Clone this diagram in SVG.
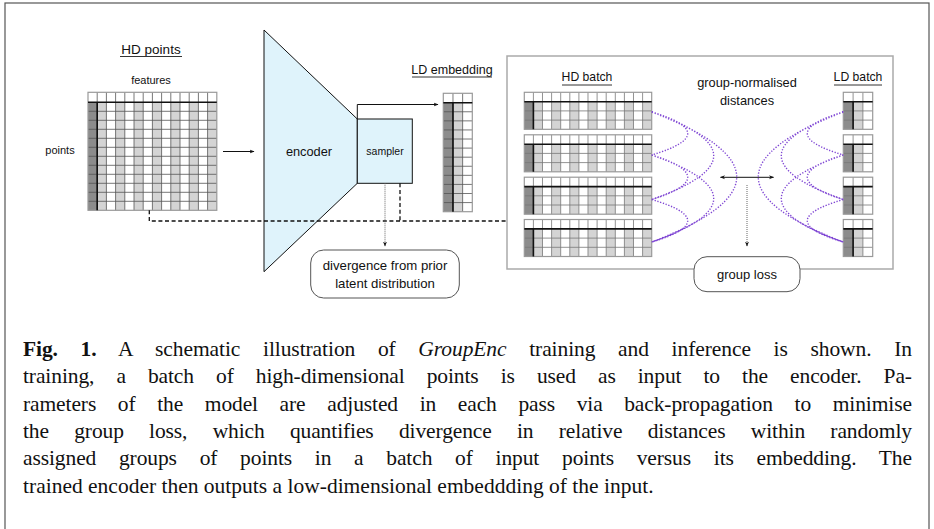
<svg xmlns="http://www.w3.org/2000/svg" width="934" height="529" viewBox="0 0 934 529">
<style>
.sans{font-family:"Liberation Sans","DejaVu Sans",sans-serif;fill:#111}
.cap{font-family:"Liberation Serif","DejaVu Serif",serif;fill:#111;font-size:21.5px}
.dk{fill:#8c8c8c}
.lg{fill:#d4d4d4}
.gl{fill:none;stroke:#555;stroke-width:0.8}
.gb{fill:none;stroke:#777;stroke-width:0.8}
.bd{fill:none;stroke:#999;stroke-width:1.2}
.thk{fill:none;stroke:#111;stroke-width:1.6}
.ul{stroke:#333;stroke-width:1}
.blue{fill:#dff3fb;stroke:#111;stroke-width:1}
.box{fill:#fff;stroke:#555;stroke-width:1}
.arr{fill:none;stroke:#111;stroke-width:1}
.dash{fill:none;stroke:#111;stroke-width:1.3;stroke-dasharray:4 2.6}
.dot{fill:none;stroke:#666;stroke-width:1;stroke-dasharray:1 1}
.pur{fill:none;stroke:#8048d4;stroke-width:1.4;stroke-dasharray:1.3 1.6}
</style>
<defs>
<marker id="ah" viewBox="0 0 10 10" refX="9" refY="5" markerWidth="5" markerHeight="5" orient="auto-start-reverse" markerUnits="userSpaceOnUse">
<path d="M0,1 L10,5 L0,9 L3,5 Z" fill="#111"/>
</marker>
<g id="hdgrid">
<rect x="0" y="0" width="128.8" height="118" fill="#fff"/>
<rect x="0" y="10" width="9.2" height="108" class="dk"/>
<rect x="9.2" y="10" width="9.2" height="108" class="lg"/>
<rect x="27.6" y="10" width="9.2" height="108" class="lg"/>
<rect x="46" y="10" width="9.2" height="108" class="lg"/>
<rect x="64.4" y="10" width="9.2" height="108" class="lg"/>
<rect x="82.8" y="10" width="9.2" height="108" class="lg"/>
<rect x="101.2" y="10" width="9.2" height="108" class="lg"/>
<rect x="119.6" y="10" width="9.2" height="108" class="lg"/>
<path class="gl" d="M9.2 0V118M18.4 0V118M27.6 0V118M36.8 0V118M46 0V118M55.2 0V118M64.4 0V118M73.6 0V118M82.8 0V118M92 0V118M101.2 0V118M110.4 0V118M119.6 0V118M0 19H128.8M0 28H128.8M0 37H128.8M0 46H128.8M0 55H128.8M0 64H128.8M0 73H128.8M0 82H128.8M0 91H128.8M0 100H128.8M0 109H128.8"/>
<rect x="0" y="0" width="128.8" height="118" class="bd"/>
<path class="thk" d="M0 10H128.8M9.2 10V118"/>
</g>
<g id="hdblock">
<rect x="0" y="0" width="127.4" height="37" fill="#fff"/>
<rect x="0" y="9.4" width="9.1" height="27.6" class="dk"/>
<rect x="9.1" y="9.4" width="9.1" height="27.6" class="lg"/>
<rect x="27.3" y="9.4" width="9.1" height="27.6" class="lg"/>
<rect x="45.5" y="9.4" width="9.1" height="27.6" class="lg"/>
<rect x="63.7" y="9.4" width="9.1" height="27.6" class="lg"/>
<rect x="81.9" y="9.4" width="9.1" height="27.6" class="lg"/>
<rect x="100.1" y="9.4" width="9.1" height="27.6" class="lg"/>
<rect x="118.3" y="9.4" width="9.1" height="27.6" class="lg"/>
<path class="gb" d="M9.1 0V37M18.2 0V37M27.3 0V37M36.4 0V37M45.5 0V37M54.6 0V37M63.7 0V37M72.8 0V37M81.9 0V37M91 0V37M100.1 0V37M109.2 0V37M118.3 0V37M0 18.6H127.4M0 27.8H127.4"/>
<rect x="0" y="0" width="127.4" height="37" class="bd"/>
<path class="thk" d="M0 9.4H127.4M9.1 9.4V37"/>
</g>
<g id="ldblock">
<rect x="0" y="0" width="29.4" height="37" fill="#fff"/>
<rect x="0" y="9.4" width="9.8" height="27.6" class="dk"/>
<rect x="9.8" y="9.4" width="9.8" height="27.6" class="lg"/>
<path class="gb" d="M9.8 0V37M19.6 0V37M0 18.6H29.4M0 27.8H29.4"/>
<rect x="0" y="0" width="29.4" height="37" class="bd"/>
<path class="thk" d="M0 9.4H29.4M9.8 9.4V37"/>
</g>
</defs>
<rect x="0" y="0" width="934" height="529" fill="#fff"/>
<rect x="5" y="3" width="924" height="540" fill="none" stroke="#555" stroke-width="1.2"/>

<g id="panel">
<rect x="507" y="56" width="386" height="213" fill="none" stroke="#aaa" stroke-width="1.5"/>
</g>

<g id="hd-points">
<text class="sans" x="151" y="53.5" font-size="13.5" text-anchor="middle">HD points</text>
<line class="ul" x1="120" y1="56.5" x2="182" y2="56.5"/>
<text class="sans" x="151" y="84.3" font-size="11" text-anchor="middle">features</text>
<text class="sans" x="60" y="154.3" font-size="11" text-anchor="middle">points</text>
<use href="#hdgrid" x="88" y="92.3"/>
</g>

<g id="encoder">
<path class="blue" d="M264 30 L357.3 119 L357.3 183.3 L264 271.7 Z"/>
<text class="sans" x="309" y="155.7" font-size="12.8" text-anchor="middle">encoder</text>
</g>

<g id="sampler">
<rect class="blue" x="357.3" y="119" width="55" height="64.3"/>
<text class="sans" x="385" y="155" font-size="10.5" text-anchor="middle">sampler</text>
</g>

<g id="ld-embedding">
<text class="sans" x="452" y="73.5" font-size="12.5" text-anchor="middle">LD embedding</text>
<line class="ul" x1="412" y1="77" x2="492" y2="77"/>
<g transform="translate(443.3,93.3)">
<rect x="0" y="0" width="29" height="118.4" fill="#fff"/>
<rect x="0" y="9.4" width="9.67" height="109" class="dk"/>
<rect x="9.67" y="9.4" width="9.67" height="109" class="lg"/>
<path class="gl" d="M9.67 0V118.4M19.33 0V118.4M0 18.48H29M0 27.56H29M0 36.64H29M0 45.72H29M0 54.8H29M0 63.88H29M0 72.96H29M0 82.04H29M0 91.12H29M0 100.2H29M0 109.28H29"/>
<rect x="0" y="0" width="29" height="118.4" class="bd"/>
<path class="thk" d="M0 9.4H29M9.67 9.4V118.4"/>
</g>
</g>

<g id="divergence">
<rect class="box" x="310.7" y="250" width="148.6" height="48" rx="13" ry="13"/>
<text class="sans" x="385" y="269.5" font-size="13.2" text-anchor="middle">divergence from prior</text>
<text class="sans" x="385" y="287.5" font-size="13.2" text-anchor="middle">latent distribution</text>
</g>

<g id="hd-batch">
<text class="sans" x="587" y="81.3" font-size="12.2" text-anchor="middle">HD batch</text>
<line class="ul" x1="562" y1="85" x2="612" y2="85"/>
<use href="#hdblock" x="524.3" y="92.3"/>
<use href="#hdblock" x="524.3" y="134.8"/>
<use href="#hdblock" x="524.3" y="177.2"/>
<use href="#hdblock" x="524.3" y="219.5"/>
</g>

<g id="ld-batch">
<text class="sans" x="858" y="81.3" font-size="12.2" text-anchor="middle">LD batch</text>
<line class="ul" x1="834" y1="85" x2="882" y2="85"/>
<use href="#ldblock" x="843.3" y="92.3"/>
<use href="#ldblock" x="843.3" y="134.8"/>
<use href="#ldblock" x="843.3" y="177.2"/>
<use href="#ldblock" x="843.3" y="219.5"/>
</g>

<g id="distances-label">
<text class="sans" x="747" y="86.7" font-size="12.8" text-anchor="middle">group-normalised</text>
<text class="sans" x="747" y="105" font-size="12.8" text-anchor="middle">distances</text>
</g>

<g id="group-loss">
<rect class="box" x="694" y="256.7" width="106" height="35" rx="13" ry="13"/>
<text class="sans" x="747" y="279" font-size="13" text-anchor="middle">group loss</text>
</g>

<g id="connectors">
<line class="arr" x1="223" y1="151.5" x2="254" y2="151.5" marker-end="url(#ah)"/>
<path class="arr" d="M357.3 119 V104.5 H438" marker-end="url(#ah)"/>
<path class="dash" d="M149.3 210.3 V221 H507 M400 183.3 V221"/>
<line class="dot" x1="385" y1="183.3" x2="385" y2="246" marker-end="url(#ah)"/>
<line class="arr" x1="720.5" y1="177.3" x2="773.5" y2="177.3" marker-start="url(#ah)" marker-end="url(#ah)"/>
<line class="dot" x1="747" y1="185" x2="747" y2="246" marker-end="url(#ah)"/>
<path class="pur" d="M651.7 112 Q723.7 133.5 651.7 155 M651.7 155 Q723.7 177.2 651.7 199.5 M651.7 199.5 Q723.7 220.7 651.7 242 M651.7 112 Q775.7 155.7 651.7 199.5 M651.7 155 Q775.7 198.5 651.7 242 M651.7 112 Q821.7 177 651.7 242"/>
<path class="pur" d="M843.3 112 Q771.3 133.5 843.3 155 M843.3 155 Q771.3 177.2 843.3 199.5 M843.3 199.5 Q771.3 220.7 843.3 242 M843.3 112 Q719.3 155.7 843.3 199.5 M843.3 155 Q719.3 198.5 843.3 242 M843.3 112 Q673.3 177 843.3 242"/>
</g>

<g id="caption">
<text class="cap" x="23" y="356" word-spacing="17.4" textLength="889" lengthAdjust="spacing"><tspan font-weight="bold">Fig. 1.</tspan> A schematic illustration of <tspan font-style="italic">GroupEnc</tspan> training and inference is shown. In</text>
<text class="cap" x="23" y="383.3" word-spacing="16.8" textLength="889" lengthAdjust="spacing">training, a batch of high-dimensional points is used as input to the encoder. Pa-</text>
<text class="cap" x="23" y="410.6" word-spacing="16.4" textLength="889" lengthAdjust="spacing">rameters of the model are adjusted in each pass via back-propagation to minimise</text>
<text class="cap" x="23" y="437.9" word-spacing="20" textLength="889" lengthAdjust="spacing">the group loss, which quantifies divergence in relative distances within randomly</text>
<text class="cap" x="23" y="465.2" word-spacing="17.5" textLength="889" lengthAdjust="spacing">assigned groups of points in a batch of input points versus its embedding. The</text>
<text class="cap" x="23" y="492.5">trained encoder then outputs a low-dimensional embeddding of the input.</text>
</g>
</svg>
